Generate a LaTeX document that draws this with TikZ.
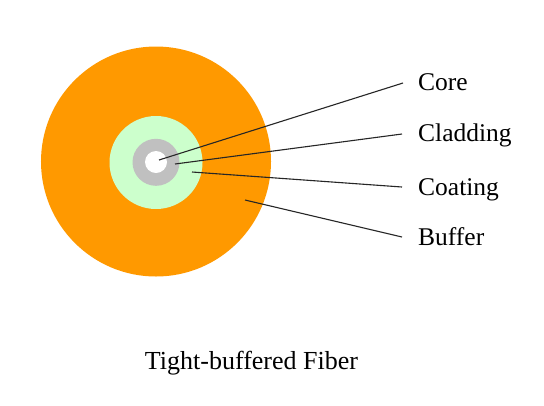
\documentclass[tikz,border=0pt]{standalone}
\usepackage{fontspec}
\setmainfont{Liberation Serif}
\definecolor{bufferorange}{RGB}{255,153,0}
\definecolor{coatgreen}{RGB}{204,255,204}
\definecolor{cladgray}{RGB}{192,192,192}
\begin{document}
\begin{tikzpicture}[x=1bp,y=-1bp,
  layer/.style={circle,inner sep=0pt,draw=none},
  lbl/.style={anchor=base west,inner sep=0pt,font=\fontsize{25.5bp}{28bp}\selectfont},
  leader/.style={draw=black!85,line width=1.1bp}]
\useasboundingbox[fill=white] (0,0) rectangle (544,405);
\node[layer,fill=bufferorange,minimum size=230bp] (buffer) at (156,161.5) {};
\node[layer,fill=coatgreen,minimum size=93bp] (coating) at (156,162.5) {};
\node[layer,fill=cladgray,minimum size=47bp] (cladding) at (156,162.3) {};
\node[layer,fill=white,minimum size=22bp] (core) at (156,162) {};
\node[lbl] (tcore) at (418,90) {Core};
\node[lbl] (tclad) at (418,141.7) {Cladding};
\node[lbl] (tcoat) at (418,195) {Coating};
\node[lbl] (tbuf) at (418,245) {Buffer};
\node[anchor=base,inner sep=0pt,font=\fontsize{26bp}{28bp}\selectfont] (title) at (251.5,369) {Tight-buffered Fiber};
\coordinate (pcore) at (159,160);
\coordinate (pclad) at (175,164);
\coordinate (pcoat) at (192,172);
\coordinate (pbuf) at (245,200);
\coordinate (ecore) at (403,83);
\coordinate (eclad) at (402,134);
\coordinate (ecoat) at (402,187);
\coordinate (ebuf) at (402,237);
\draw[leader] (pcore) -- (ecore);
\draw[leader] (pclad) -- (eclad);
\draw[leader] (pcoat) -- (ecoat);
\draw[leader] (pbuf) -- (ebuf);
\end{tikzpicture}
\end{document}
